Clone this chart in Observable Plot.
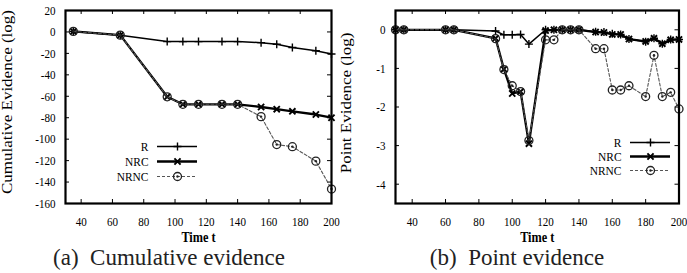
<!DOCTYPE html>
<html><head><meta charset="utf-8">
<script src="https://cdn.jsdelivr.net/npm/d3@7"></script>
<script src="https://cdn.jsdelivr.net/npm/@observablehq/plot@0.6"></script>
<style>
html,body{margin:0;padding:0;background:#fff;}
#wrap{position:relative;width:687px;height:273px;overflow:hidden;font-family:'Liberation Serif','DejaVu Serif',serif;color:#000;}
#wrap svg{position:absolute;overflow:visible;}
#wrap svg, #wrap svg text{font-family:'Liberation Serif','DejaVu Serif',serif !important;}
.cap{position:absolute;top:247px;font-size:23px;line-height:22px;text-align:center;color:#222;white-space:pre;font-family:'Liberation Serif','DejaVu Serif',serif;}
</style></head><body><div id="wrap"></div>
<script>
// ---- data: (a) cumulative evidence ----
const tCum = [35, 65, 95, 105, 115, 130, 140, 155, 165, 175, 190, 200];
const cumR = [0.5, -3, -9, -9, -9, -9, -9, -10, -11.5, -14.5, -17.5, -20.5];
const cumNRC = [0.5, -3, -60.5, -67.5, -67.5, -67.5, -67.5, -70, -72, -74, -77, -80];
const cumNRNC = [0.5, -3, -60.5, -67.5, -67.5, -67.5, -67.5, -79, -105, -107, -120.5, -146.5];
// ---- data: (b) point evidence ----
const tPt = [30, 35, 60, 65, 90, 95, 100, 105, 110, 120, 125, 130, 135, 140, 150, 155, 160, 165, 170, 180, 185, 190, 195, 200];
const ptR = [0, 0, 0, 0, -0.03, -0.13, -0.13, -0.12, -0.37, 0, 0, 0, 0, 0, -0.05, -0.06, -0.1, -0.12, -0.24, -0.31, -0.22, -0.36, -0.25, -0.25];
const ptNRC = [0, 0, 0, 0, -0.22, -1.02, -1.65, -1.6, -2.95, -0.02, 0, 0, 0, 0, -0.06, -0.07, -0.12, -0.12, -0.24, -0.3, -0.22, -0.36, -0.26, -0.25];
const ptNRNC = [0, 0, 0, 0, -0.23, -1.03, -1.45, -1.6, -2.87, -0.26, -0.26, 0, 0, 0, -0.49, -0.49, -1.56, -1.56, -1.45, -1.73, -0.66, -1.73, -1.62, -2.05];
// ---- labels / ticks ----
const seriesNames = ["R", "NRC", "NRNC"];
const xTicks = [40, 60, 80, 100, 120, 140, 160, 180, 200];
const cumYTicks = [20, 0, -20, -40, -60, -80, -100, -120, -140, -160];
const ptYTicks = [0, -1, -2, -3, -4];
const xLabel = "Time t";
const cumYLabel = "Cumulative Evidence (log)";
const ptYLabel = "Point Evidence (log)";
const captions = ["(a)\u2002Cumulative evidence", "(b)\u2002Point evidence"];

const FONT = "'Liberation Serif','DejaVu Serif',serif";
const styles = {
  R: {stroke: "#000", strokeWidth: 1.5, dash: null, symbol: "plus", r: 2.7, sw: 1.4},
  NRC: {stroke: "#000", strokeWidth: 2.3, dash: null, symbol: "times", r: 2.9, sw: 1.9},
  NRNC: {stroke: "#555", strokeWidth: 1.1, dash: "3,2", symbol: "circle", r: 4, sw: 1.3}
};

function seriesMarks(rows, key) {
  const s = styles[key];
  const m = [
    Plot.line(rows, {x: "t", y: key, stroke: s.stroke, strokeWidth: s.strokeWidth, strokeDasharray: s.dash})
  ];
  if (key === "NRNC") {
    m.push(Plot.dot(rows, {x: "t", y: key, r: s.r, symbol: "circle", stroke: "#222", fill: "none", strokeWidth: s.sw}));
    m.push(Plot.dot(rows, {x: "t", y: key, r: 1.2, fill: "#222", stroke: "none"}));
  } else {
    m.push(Plot.dot(rows, {x: "t", y: key, r: s.r, symbol: s.symbol, stroke: "#000", strokeWidth: s.sw}));
  }
  return m;
}

function condense(svg, s) {
  d3.select(svg).selectAll("text").each(function () {
    const el = d3.select(this);
    el.style("font-family", FONT);
    const tr = el.attr("transform") || "";
    if (/rotate\(/.test(tr)) el.attr("transform", tr + ` scale(1,${s})`);
    else {
      const x = +el.attr("x") || 0;
      el.attr("transform", tr + ` translate(${x},0) scale(${s},1) translate(${-x},0)`);
    }
  });
}

function chart({t, R, NRC, NRNC, yDomain, yTicks, yLabel, width, height, marginLeft, marginRight, labelDx, labelDy}) {
  const rows = t.map((tt, i) => ({t: tt, R: R[i], NRC: NRC[i], NRNC: NRNC[i]}));
  const marginTop = 10, marginBottom = 40;
  const plotW = width - marginLeft - marginRight, plotH = height - marginTop - marginBottom;
  const svg = Plot.plot({
    width, height, marginLeft, marginRight, marginTop, marginBottom,
    style: {fontFamily: FONT, fontSize: "13.5px", background: "transparent", overflow: "visible", color: "#000"},
    x: {domain: [30, 200], ticks: xTicks, tickSize: 0, tickPadding: 13, tickFormat: d => String(d), label: null},
    y: {domain: yDomain, ticks: yTicks, tickSize: 0, tickPadding: 10, tickFormat: d => String(d), label: null},
    marks: [
      Plot.tickX(xTicks, {x: d => d, insetBottom: plotH - 4, strokeWidth: 1}),
      Plot.tickX(xTicks, {x: d => d, insetTop: plotH - 4, strokeWidth: 1}),
      Plot.tickY(yTicks, {y: d => d, insetRight: plotW - 4, strokeWidth: 1}),
      Plot.tickY(yTicks, {y: d => d, insetLeft: plotW - 4, strokeWidth: 1}),
      ...seriesMarks(rows, "R"),
      ...seriesMarks(rows, "NRC"),
      ...seriesMarks(rows, "NRNC"),
      Plot.frame({strokeWidth: 2.2, stroke: "#000"}),
      Plot.text([yLabel], {frameAnchor: "left", dx: labelDx, dy: labelDy, rotate: -90, textAnchor: "middle", lineAnchor: "middle", fontSize: 17, fill: "#000"}),
      Plot.text([xLabel], {frameAnchor: "bottom", dy: 34, textAnchor: "middle", lineAnchor: "middle", fontSize: 15, fontWeight: "bold", fill: "#000"})
    ]
  });
  condense(svg, 0.82);
  return svg;
}

function legend({rowGap}) {
  const h = 20 + rowGap * 2;
  const marks = [];
  for (const k of seriesNames) {
    const s = styles[k];
    marks.push(Plot.ruleY([k], {y: d => d, stroke: s.stroke, strokeWidth: s.strokeWidth, strokeDasharray: s.dash}));
    if (k === "NRNC") {
      marks.push(Plot.dot([k], {y: d => d, r: s.r, symbol: "circle", stroke: "#222", fill: "none", strokeWidth: s.sw}));
      marks.push(Plot.dot([k], {y: d => d, r: 1.2, fill: "#222", stroke: "none"}));
    } else {
      marks.push(Plot.dot([k], {y: d => d, r: s.r, symbol: s.symbol, stroke: "#000", strokeWidth: s.sw}));
    }
  }
  const svg = Plot.plot({
    width: 105, height: h, marginLeft: 60, marginRight: 5, marginTop: 10, marginBottom: 10,
    style: {fontFamily: FONT, fontSize: "13px", background: "transparent", overflow: "visible", color: "#000"},
    x: {domain: [0, 1], axis: null},
    y: {type: "point", domain: seriesNames, padding: 0, tickSize: 0, tickPadding: 9, label: null},
    marks
  });
  condense(svg, 0.88);
  return svg;
}

const wrap = document.getElementById("wrap");
function place(el, left, top) { el.style.left = left + "px"; el.style.top = top + "px"; wrap.appendChild(el); }

place(chart({t: tCum, R: cumR, NRC: cumNRC, NRNC: cumNRNC, yDomain: [-160, 20], yTicks: cumYTicks, yLabel: cumYLabel,
  width: 344, height: 243, marginLeft: 65, marginRight: 13, labelDx: -58, labelDy: -5}), 0, 0);
place(chart({t: tPt, R: ptR, NRC: ptNRC, NRNC: ptNRNC, yDomain: [-4.5, 0.5], yTicks: ptYTicks, yLabel: ptYLabel,
  width: 343, height: 243, marginLeft: 51, marginRight: 8.5, labelDx: -49, labelDy: -4}), 344, 0);
place(legend({rowGap: 15}), 97, 136);
place(legend({rowGap: 14}), 570, 132);

const capPos = [[0, 338], [344, 346]];
captions.forEach((c, i) => {
  const d = document.createElement("div");
  d.className = "cap";
  d.textContent = c;
  d.style.left = capPos[i][0] + "px";
  d.style.width = capPos[i][1] + "px";
  wrap.appendChild(d);
});
</script></body></html>
